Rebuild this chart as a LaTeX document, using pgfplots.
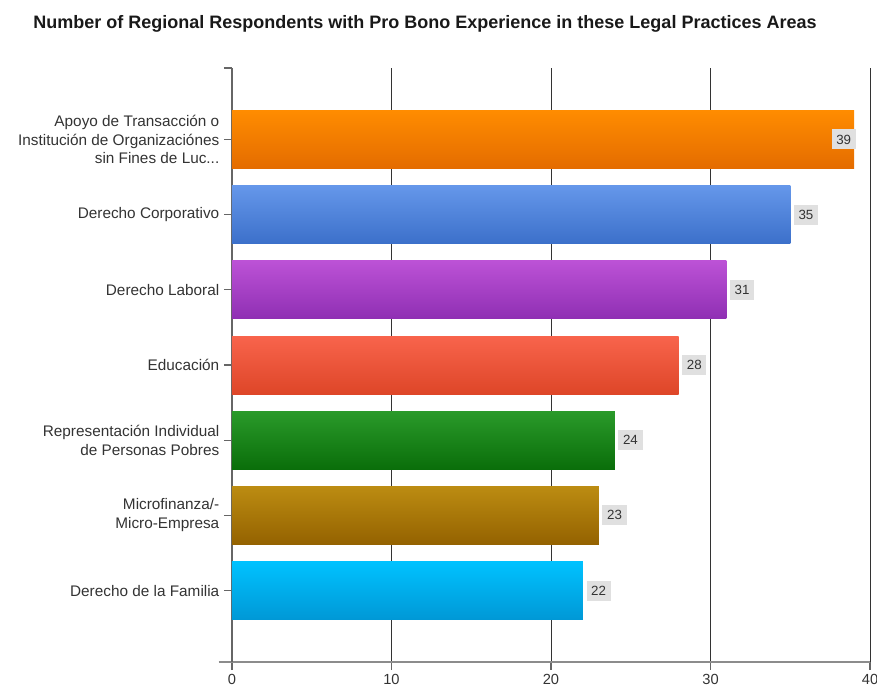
\documentclass[border=0pt]{standalone}
\usepackage{pgfplots}
\pgfplotsset{compat=1.18}
\usepackage{fontspec}
\setmainfont{Liberation Sans}

% bar colours, light top / dark bottom
\definecolor{orT}{HTML}{FF8C00}\definecolor{orB}{HTML}{E46C00}
\definecolor{blT}{HTML}{6597EA}\definecolor{blB}{HTML}{3C70CA}
\definecolor{puT}{HTML}{BC52D6}\definecolor{puB}{HTML}{8F2FB3}
\definecolor{reT}{HTML}{F8644C}\definecolor{reB}{HTML}{DE4628}
\definecolor{grT}{HTML}{2A9A2A}\definecolor{grB}{HTML}{0A6E0A}
\definecolor{brT}{HTML}{BC8C12}\definecolor{brB}{HTML}{946200}
\definecolor{cyT}{HTML}{00C2FF}\definecolor{cyB}{HTML}{0098D6}
\definecolor{lbl}{HTML}{333333}
\newcommand\threedots{.{}.{}.}

\begin{document}
\begin{tikzpicture}
\useasboundingbox (-174pt,-18.75pt) rectangle (483.75pt,496.5pt);
\begin{axis}[
  scale only axis,
  width=478.5pt, height=445.5pt,
  xmin=0, xmax=40, ymin=-0.95, ymax=6.95,
  xbar, bar width=43.5pt, bar shift=0pt,
  axis x line*=bottom, axis y line*=left,
  axis line style={-},
  x axis line style={line width=1.8pt, black!45, shorten <=-10pt},
  y axis line style={line width=0.9pt, black!60},
  xtick={0,10,20,30,40},
  ytick={0,1,2,3,4,5,6},
  extra y ticks={6.95}, extra y tick labels={},
  yticklabels={
    {Derecho de la Familia},
    {Microfinanza/-\\Micro-Empresa},
    {Representación Individual\\de Personas Pobres},
    {Educación},
    {Derecho Laboral},
    {Derecho Corporativo},
    {Apoyo de Transacción o\\Institución de Organizaciónes\\sin Fines de Luc\threedots}
  },
  /pgf/number format/assume math mode=true,
  yticklabel style={align=right, font=\fontsize{11.5}{14.2}\selectfont, text=lbl},
  xticklabel style={font=\fontsize{11}{12}\selectfont, text=lbl},
  tick align=outside,
  major tick length=6pt,
  tick style={black!60, line width=0.8pt},
  xmajorgrids,
  grid style={black!80, line width=0.7pt},
  nodes near coords,
  nodes near coords style={fill=black!12, text=lbl, inner xsep=3.5pt, inner ysep=4pt,
    font=\fontsize{10}{11}\selectfont, anchor=west, xshift=2.5pt},
]
\addplot[draw=none, top color=cyT, bottom color=cyB] coordinates {(22,0)};
\addplot[draw=none, top color=brT, bottom color=brB] coordinates {(23,1)};
\addplot[draw=none, top color=grT, bottom color=grB] coordinates {(24,2)};
\addplot[draw=none, top color=reT, bottom color=reB] coordinates {(28,3)};
\addplot[draw=none, top color=puT, bottom color=puB] coordinates {(31,4)};
\addplot[draw=none, top color=blT, bottom color=blB] coordinates {(35,5)};
\addplot[draw=none, top color=orT, bottom color=orB,
  nodes near coords style={anchor=east, xshift=-1pt}] coordinates {(39,6)};
\end{axis}
\node[font=\bfseries\fontsize{13.5}{15}\selectfont, text=black!90]
  at (144.75pt,478.5pt) {Number of Regional Respondents with Pro Bono Experience in these Legal Practices Areas};
\end{tikzpicture}
\end{document}
